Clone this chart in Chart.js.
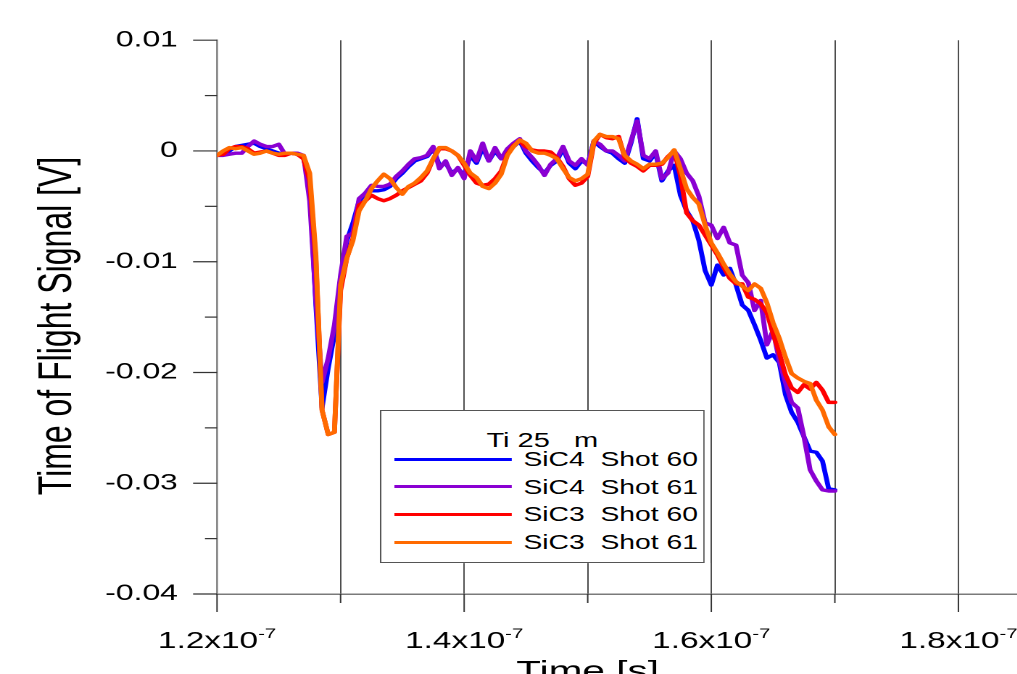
<!DOCTYPE html>
<html lang="en">
<head>
  <meta charset="UTF-8">
  <title>Time of Flight Signal</title>
  <script src="https://cdn.jsdelivr.net/npm/chart.js@4.4.0/dist/chart.umd.min.js"></script>
  <style>
    html, body { margin: 0; padding: 0; background: #fff; overflow: hidden; }
    /* the original figure is stretched sideways, so the whole drawing is too */
    #wrap { position: relative; width: 730px; height: 700px; transform: scaleX(1.45); transform-origin: 0 0; }
    #legend {
      position: absolute; left: 262px; top: 410px; width: 224px; height: 153px;
      box-sizing: border-box; border: 1.4px solid #555; background: #fff;
      font-family: 'Liberation Sans', Arial, sans-serif; color: #000;
    }
    #legend .ttl { position: absolute; left: 0; right: 0; top: 14px; line-height: 30px; text-align: center; font-size: 20px; white-space: pre; }
    #legend .row { position: absolute; left: 0; width: 100%; height: 28px; }
    #legend .sw { position: absolute; left: 9px; top: 12.5px; width: 81px; height: 3px; }
    #legend .lb { position: absolute; left: 98px; top: 0; line-height: 28px; font-size: 19.5px; white-space: pre; }
  </style>
</head>
<body>
  <div id="wrap">
    <canvas id="tof"></canvas>
    <div id="legend"></div>
  </div>
  <script>
    const FONT = "'Liberation Sans', Arial, sans-serif";

    // sample times in ns
    const timesNs = [
      120, 120.5, 121, 121.5, 122, 122.5, 123, 123.5, 124, 124.5,
      125, 125.5, 126, 126.5, 127, 127.5, 128, 128.5, 129, 129.5,
      130, 130.5, 131, 131.5, 132, 132.5, 133, 133.5, 134, 134.5,
      135, 135.5, 136, 136.5, 137, 137.5, 138, 138.5, 139, 139.5,
      140, 140.5, 141, 141.5, 142, 142.5, 143, 143.5, 144, 144.5,
      145, 145.5, 146, 146.5, 147, 147.5, 148, 148.5, 149, 149.5,
      150, 150.5, 151, 151.5, 152, 152.5, 153, 153.5, 154, 154.5,
      155, 155.5, 156, 156.5, 157, 157.5, 158, 158.5, 159, 159.5,
      160, 160.5, 161, 161.5, 162, 162.5, 163, 163.5, 164, 164.5,
      165, 165.5, 166, 166.5, 167, 167.5, 168, 168.5, 169, 169.5,
      170
    ];

    // signals in mV
    const sic4Shot60 = [
      -0.4, -0.3, 0, 0.4, 0.5, 0.6, 0.7, 0.4, 0.2, 0,
      -0.2, -0.3, -0.2, -0.3, -0.6, -3.1, -13.9, -23.2, -19.6, -16.6,
      -11.5, -8.1, -6.5, -4.5, -3.9, -3.6, -3.6, -3.5, -3.2, -2.5,
      -2.0, -1.4, -0.9, -0.7, -0.5, 0.2, -1.3, -1.1, -2.0, -1.6,
      -2.2, -0.4, -1.1, 0.3, -0.9, 0, -0.7, 0, 0.4, 0.9,
      -0.2, -0.9, -1.5, -2.0, -1.3, -0.9, 0.2, -1.1, -1.6, -0.9,
      -1.2, 0.9, 0.4, 0, -0.2, -0.7, -1.1, 0.7, 2.9, -0.7,
      -0.9, -0.2, -2.7, -1.8, -1.3, -4.0, -5.4, -6.3, -8.1, -10.8,
      -12.1, -10.3, -11.2, -10.6, -12.1, -13.9, -14.4, -15.7, -17.1, -18.7,
      -18.4, -19.1, -22.0, -23.6, -24.5, -25.8, -27.1, -27.2, -28.0, -30.5,
      -30.6
    ];
    const sic4Shot61 = [
      -0.4, -0.4, -0.3, -0.2, -0.2, 0.4, 0.9, 0.6, 0.4, 0.4,
      0.6, -0.3, -0.2, -0.2, -0.4, -4.5, -13.5, -20.9, -18.7, -15.7,
      -11.2, -7.7, -7.4, -4.3, -3.8, -3.1, -3.2, -3.2, -3.0, -2.3,
      -1.8, -1.2, -0.7, -0.6, -0.4, 0.4, -1.6, -0.9, -2.2, -1.5,
      -2.5, 0, -0.9, 0.7, -0.9, 0.3, -0.7, 0.2, 0.7, 1.1,
      0, -0.6, -1.3, -2.2, -1.2, -0.7, 0.4, -0.9, -1.3, -0.7,
      -1.3, 0.9, 0.6, 0, 0, -0.4, -0.9, 0.9, 2.7, -0.4,
      -0.7, 0, -2.5, -2.0, 0, -0.7, -2.0, -2.7, -4.1, -6.5,
      -6.7, -7.9, -6.9, -8.3, -8.5, -11.2, -11.9, -14.4, -13.5, -17.5,
      -16.2, -18.9, -20.9, -22.7, -23.2, -25.8, -28.8, -29.8, -30.6, -30.7,
      -30.7
    ];
    const sic3Shot60 = [
      -0.4, -0.3, 0.2, 0.4, 0.4, 0.2, -0.2, -0.1, 0, -0.2,
      -0.4, -0.4, -0.2, -0.3, -0.7, -2.7, -9.9, -23.4, -25.6, -25.4,
      -12.6, -9.7, -7.9, -4.9, -4.5, -4.0, -4.3, -4.5, -4.3, -4.0,
      -3.6, -3.3, -3.0, -2.7, -2.0, -0.7, 0.2, 0.2, 0, -0.4,
      -1.3, -2.2, -2.9, -3.1, -3.0, -2.5, -1.8, -0.3, 0.5, 0.9,
      0.4, 0.1, 0, 0, -0.1, -0.6, -1.4, -2.5, -3.1, -2.9,
      -2.3, 0.7, 1.5, 1.2, 1.1, 1.3, -0.6, -1.1, -1.4, -1.8,
      -1.3, -1.3, -1.2, -0.5, 0, -2.2, -5.6, -6.3, -6.7, -7.6,
      -8.5, -9.4, -10.5, -11.5, -12.0, -12.0, -13.2, -13.4, -13.8, -14.6,
      -16.5, -18.2, -20.2, -21.4, -21.8, -21.1, -21.5, -20.9, -21.6, -22.7,
      -22.7
    ];
    const sic3Shot61 = [
      -0.4, 0, 0.3, 0.2, 0.3, 0, -0.3, -0.2, 0, -0.2,
      -0.3, -0.2, -0.2, -0.3, -0.4, -2.0, -9.4, -23.4, -25.6, -25.4,
      -12.1, -9.7, -8.1, -5.4, -4.5, -3.4, -2.7, -2.1, -2.5, -3.3,
      -3.9, -3.2, -2.9, -2.4, -1.8, -0.7, 0.3, 0.3, 0, -0.4,
      -1.1, -2.0, -2.4, -3.2, -3.4, -2.9, -2.1, -0.4, 0.4, 1.0,
      0.7, 0, -0.2, -0.2, -0.4, -0.7, -1.6, -2.4, -2.7, -2.5,
      -2.1, 0.9, 1.5, 1.3, 1.3, 1.1, -0.4, -0.9, -1.2, -1.6,
      -1.2, -1.2, -1.1, -0.6, 0.1, -1.6, -3.4, -4.2, -4.8, -6.7,
      -8.3, -9.2, -10.2, -11.1, -11.8, -12.2, -12.6, -12.0, -12.4, -13.7,
      -15.5, -16.9, -18.6, -20.1, -20.5, -20.8, -21.0, -22.5, -23.4, -24.9,
      -25.6
    ];

    const seriesNames = ['SiC4  Shot 60', 'SiC4  Shot 61', 'SiC3  Shot 60', 'SiC3  Shot 61'];
    const seriesValues = [sic4Shot60, sic4Shot61, sic3Shot60, sic3Shot61];
    const seriesColors = ['#0000ff', '#8a00d2', '#ff0000', '#ff6a00'];
    const legendTitle = 'Ti 25   m';

    const yTickLabels = ['-0.04', '', '-0.03', '', '-0.02', '', '-0.01', '', '0', '', '0.01'];
    const xTickValues = [1.2e-7, 1.4e-7, 1.6e-7, 1.8e-7];
    const xTickLabels = ['1.2x10', '1.4x10', '1.6x10', '1.8x10'];
    const xTickExponent = '-7';
    const xTitle = 'Time [s]';
    const yTitle = 'Time of Flight Signal [V]';

    // later series are drawn on top (orange over red, purple over blue)
    const datasets = seriesValues.map((vals, i) => ({
      label: seriesNames[i],
      data: vals.map((v, k) => ({ x: timesNs[k] * 1e-9, y: v / 1000 })),
      borderColor: seriesColors[i],
      order: seriesValues.length - i
    }));

    // minor/major tick marks, x tick labels with exponent, axis titles
    const axisExtras = {
      id: 'axisExtras',
      afterDraw(chart) {
        const { ctx, scales: { x, y } } = chart;
        ctx.save();
        ctx.strokeStyle = '#333';
        ctx.lineWidth = 1.2;
        y.ticks.forEach((t, i) => {
          const py = y.getPixelForValue(t.value);
          const len = i % 2 === 0 ? 16.5 : 8.3;
          ctx.beginPath();
          ctx.moveTo(y.right - len, py);
          ctx.lineTo(y.right, py);
          ctx.stroke();
        });
        ctx.lineWidth = 1;
        x.ticks.forEach((t, i) => {
          const px = x.getPixelForValue(t.value);
          const len = i % 2 === 0 ? 18 : 9;
          ctx.beginPath();
          ctx.moveTo(px, x.top);
          ctx.lineTo(px, x.top + len);
          ctx.stroke();
        });

        ctx.fillStyle = '#000';
        ctx.textBaseline = 'alphabetic';
        ctx.textAlign = 'left';
        xTickValues.forEach((v, i) => {
          const px = x.getPixelForValue(v);
          ctx.font = '23px ' + FONT;
          const w1 = ctx.measureText(xTickLabels[i]).width;
          ctx.font = '14px ' + FONT;
          const w2 = ctx.measureText(xTickExponent).width;
          const left = px - (w1 + w2) / 2;
          ctx.font = '23px ' + FONT;
          ctx.fillText(xTickLabels[i], left, x.top + 54);
          ctx.font = '14px ' + FONT;
          ctx.fillText(xTickExponent, left + w1, x.top + 44);
        });

        ctx.font = '28px ' + FONT;
        ctx.textAlign = 'center';
        ctx.fillText(xTitle, x.getPixelForValue(1.5e-7), x.top + 86);

        ctx.translate(40, 326);
        ctx.rotate(-Math.PI / 2);
        ctx.font = '32px ' + FONT;
        ctx.textBaseline = 'middle';
        ctx.fillText(yTitle, 0, 0);
        ctx.restore();
      }
    };

    new Chart(document.getElementById('tof'), {
      type: 'line',
      data: { datasets },
      options: {
        responsive: true,
        maintainAspectRatio: false,
        animation: false,
        devicePixelRatio: 2,
        layout: { padding: { top: 38, right: 0, bottom: 0, left: 0 } },
        plugins: { legend: { display: false }, tooltip: { enabled: false } },
        elements: {
          point: { radius: 0 },
          line: { borderWidth: 3.4, tension: 0, borderJoinStyle: 'round', borderCapStyle: 'round' }
        },
        scales: {
          x: {
            type: 'linear',
            min: 1.2e-7,
            max: 1.879e-7,
            afterFit: (s) => { s.height = 106; },
            ticks: { display: false, stepSize: 1e-8, includeBounds: false, maxTicksLimit: 20 },
            grid: {
              color: (c) => c.index === 0 ? 'rgba(0,0,0,0)' : '#4d4d4d',
              lineWidth: 1,
              drawTicks: false
            },
            border: { color: '#7a7a7a', width: 1.5 }
          },
          y: {
            min: -0.04,
            max: 0.01,
            afterFit: (s) => { s.width = 149.66; },
            ticks: {
              stepSize: 0.005,
              maxTicksLimit: 20,
              padding: 27,
              color: '#000',
              font: { family: FONT, size: 22 },
              callback: (v, i) => yTickLabels[i]
            },
            grid: { display: false, drawTicks: false },
            border: { color: '#8a8a8a', width: 1.4 }
          }
        }
      },
      plugins: [axisExtras]
    });

    // legend box
    const $legend = document.getElementById('legend');
    const ttl = document.createElement('div');
    ttl.className = 'ttl';
    ttl.textContent = legendTitle;
    $legend.appendChild(ttl);
    seriesNames.forEach((name, i) => {
      const row = document.createElement('div');
      row.className = 'row';
      row.style.top = (34 + 27.7 * i) + 'px';
      const sw = document.createElement('div');
      sw.className = 'sw';
      sw.style.background = seriesColors[i];
      const lb = document.createElement('div');
      lb.className = 'lb';
      lb.textContent = name;
      row.appendChild(sw);
      row.appendChild(lb);
      $legend.appendChild(row);
    });
  </script>
</body>
</html>
